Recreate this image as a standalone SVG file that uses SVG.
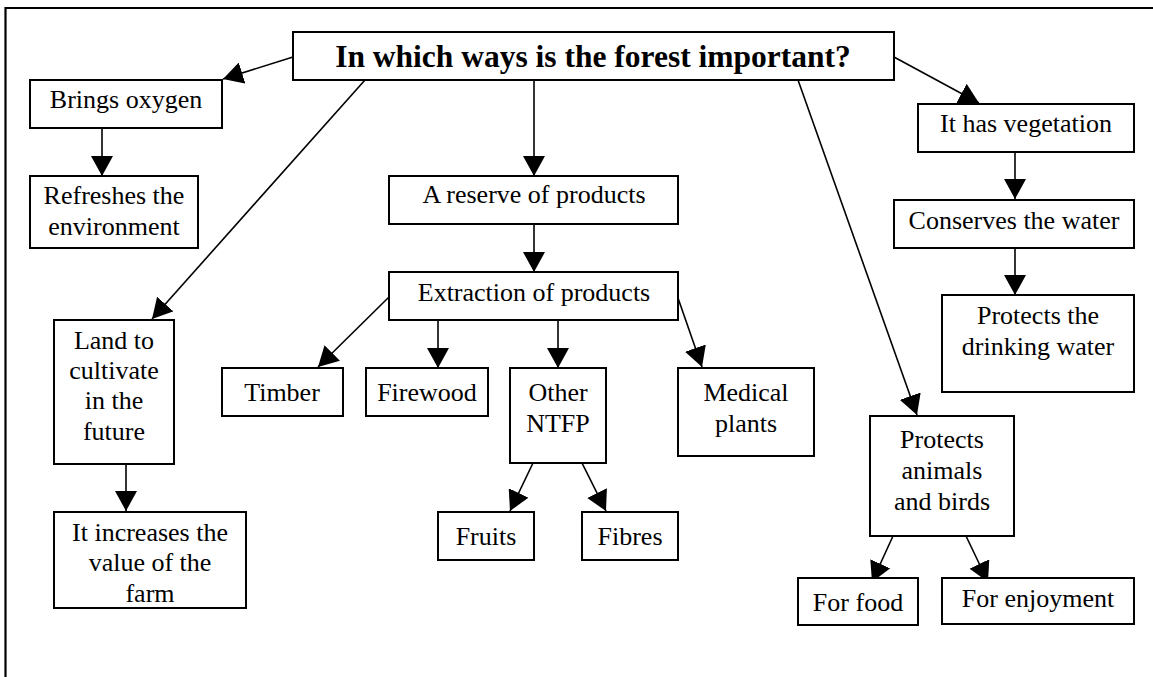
<svg xmlns="http://www.w3.org/2000/svg" width="1153" height="677" viewBox="0 0 1153 677">
<style>
.box{fill:#fff;stroke:#000;stroke-width:2}
.t{font-family:"Liberation Serif","Times New Roman",serif;font-size:26px;fill:#000;text-anchor:middle}
.title{font-family:"Liberation Serif","Times New Roman",serif;font-size:31.5px;font-weight:bold;fill:#000;text-anchor:middle}
.c{stroke:#000;stroke-width:1.6;fill:none;marker-end:url(#ah)}
.frame{stroke:#000;stroke-width:2.2;fill:none}
</style>
<defs>
<marker id="ah" viewBox="0 0 20 22" markerWidth="20" markerHeight="22" markerUnits="userSpaceOnUse" refX="20" refY="11" orient="auto">
<path d="M0,0 L20,11 L0,22 z" fill="#000"/>
</marker>
</defs>
<rect width="1153" height="677" fill="#fff"/>
<path class="frame" d="M5.5,677 L5.5,8 L1153,8"/>
<g id="connectors">
<line class="c" x1="293" y1="57" x2="223" y2="79"/>
<line class="c" x1="102" y1="128" x2="102" y2="176"/>
<line class="c" x1="365" y1="80" x2="152" y2="319"/>
<line class="c" x1="126" y1="464" x2="126" y2="511"/>
<line class="c" x1="534" y1="80" x2="534" y2="176"/>
<line class="c" x1="534" y1="224" x2="534" y2="272"/>
<line class="c" x1="389" y1="297" x2="318" y2="367"/>
<line class="c" x1="438" y1="320" x2="438" y2="368"/>
<line class="c" x1="558" y1="320" x2="558" y2="368"/>
<line class="c" x1="678" y1="298" x2="702" y2="367"/>
<line class="c" x1="533" y1="463" x2="510" y2="511"/>
<line class="c" x1="582" y1="463" x2="606" y2="511"/>
<line class="c" x1="894" y1="57" x2="979" y2="103"/>
<line class="c" x1="1015" y1="152" x2="1015" y2="199"/>
<line class="c" x1="1015" y1="248" x2="1015" y2="295"/>
<line class="c" x1="798" y1="80" x2="917" y2="415"/>
<line class="c" x1="893" y1="536" x2="872" y2="582"/>
<line class="c" x1="966" y1="536" x2="988" y2="582"/>
</g>
<g id="main"><rect class="box" x="293" y="32" width="601" height="48"/><text class="title" x="593" y="67">In which ways is the forest important?</text></g>
<g id="oxygen"><rect class="box" x="30" y="80" width="192" height="48"/><text class="t" x="126" y="108">Brings oxygen</text></g>
<g id="refreshes"><rect class="box" x="30" y="176" width="168" height="72"/><text class="t" x="114" y="204">Refreshes the</text><text class="t" x="114" y="235">environment</text></g>
<g id="land"><rect class="box" x="54" y="320" width="120" height="144"/><text class="t" x="114" y="349">Land to</text><text class="t" x="114" y="379">cultivate</text><text class="t" x="114" y="409">in the</text><text class="t" x="114" y="440">future</text></g>
<g id="increases"><rect class="box" x="54" y="512" width="192" height="96"/><text class="t" x="150" y="541">It increases the</text><text class="t" x="150" y="571">value of the</text><text class="t" x="150" y="602">farm</text></g>
<g id="reserve"><rect class="box" x="389" y="176" width="289" height="48"/><text class="t" x="534" y="203">A reserve of products</text></g>
<g id="extraction"><rect class="box" x="389" y="272" width="289" height="48"/><text class="t" x="534" y="301">Extraction of products</text></g>
<g id="timber"><rect class="box" x="222" y="368" width="121" height="48"/><text class="t" x="282" y="401">Timber</text></g>
<g id="firewood"><rect class="box" x="366" y="368" width="122" height="48"/><text class="t" x="427" y="401">Firewood</text></g>
<g id="ntfp"><rect class="box" x="510" y="368" width="96" height="95"/><text class="t" x="558" y="401">Other</text><text class="t" x="558" y="432">NTFP</text></g>
<g id="medical"><rect class="box" x="678" y="368" width="136" height="88"/><text class="t" x="746" y="401">Medical</text><text class="t" x="746" y="432">plants</text></g>
<g id="fruits"><rect class="box" x="438" y="512" width="96" height="48"/><text class="t" x="486" y="545">Fruits</text></g>
<g id="fibres"><rect class="box" x="582" y="512" width="96" height="48"/><text class="t" x="630" y="545">Fibres</text></g>
<g id="vegetation"><rect class="box" x="918" y="104" width="216" height="48"/><text class="t" x="1026" y="132">It has vegetation</text></g>
<g id="conserves"><rect class="box" x="894" y="200" width="240" height="48"/><text class="t" x="1014" y="229">Conserves the water</text></g>
<g id="drinking"><rect class="box" x="942" y="295" width="192" height="97"/><text class="t" x="1038" y="324">Protects the</text><text class="t" x="1038" y="355">drinking water</text></g>
<g id="animals"><rect class="box" x="870" y="416" width="144" height="120"/><text class="t" x="942" y="448">Protects</text><text class="t" x="942" y="479">animals</text><text class="t" x="942" y="510">and birds</text></g>
<g id="food"><rect class="box" x="798" y="578" width="120" height="47"/><text class="t" x="858" y="611">For food</text></g>
<g id="enjoyment"><rect class="box" x="942" y="578" width="192" height="46"/><text class="t" x="1038" y="607">For enjoyment</text></g>
</svg>
